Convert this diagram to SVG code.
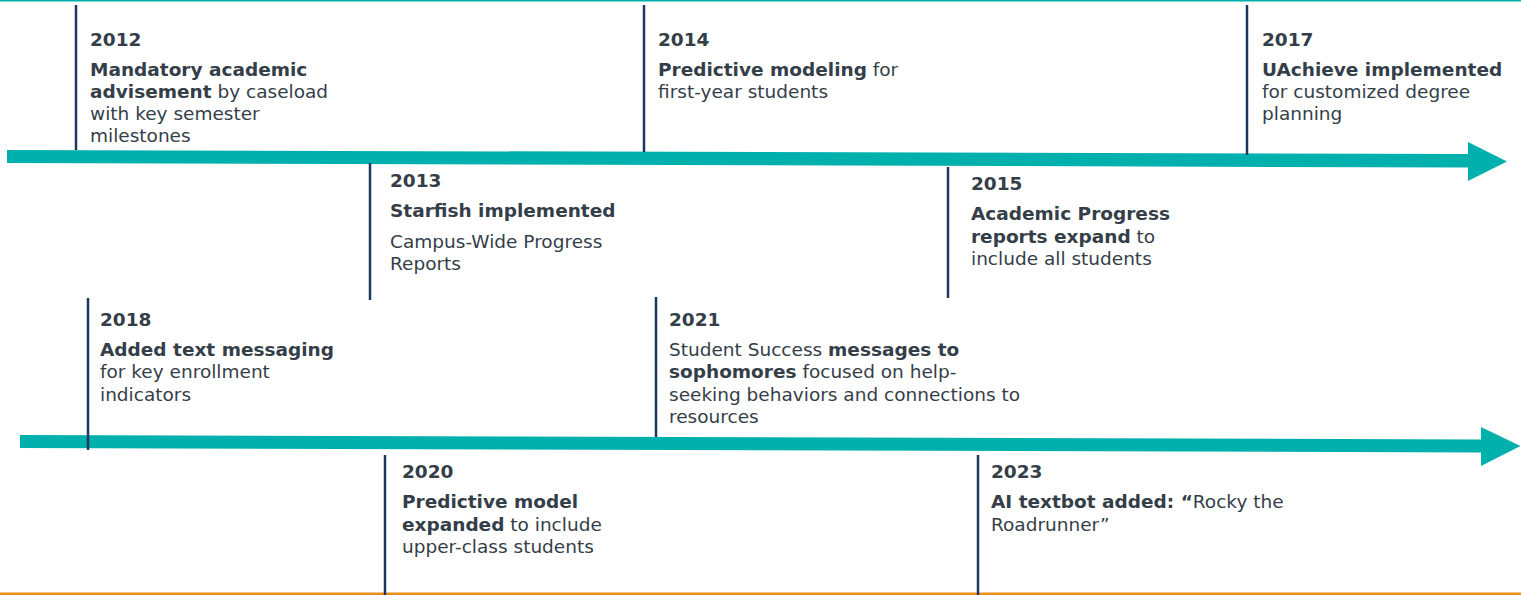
<svg xmlns="http://www.w3.org/2000/svg" width="1521" height="595" viewBox="0 0 1521 595">
  <style>
    text { font-family: "DejaVu Sans", Verdana, sans-serif; font-size: 18.5px; fill: #343e48; }
    .yr { font-weight: bold; }
    .b { font-weight: bold; }
    .tick { stroke: #1c3a5e; stroke-width: 2.5; fill: none; }
    .axis { fill: #00b0ad; }
  </style>
  <rect x="0" y="0" width="1521" height="595" fill="#ffffff"/>
  <!-- frame rules -->
  <rect x="0" y="0" width="1521" height="1.5" fill="#00b0ad"/>
  <rect x="0" y="592.5" width="1521" height="2.5" fill="#e8901a"/>

  <!-- timeline arrows and year ticks -->
  <g id="connectors">
    <polygon class="axis" points="7,150 1468,154 1468,142 1507,161.5 1468,181 1468,167.5 7,163"/>
    <polygon class="axis" points="20,435 1481,439.5 1481,427 1520.5,446 1481,466 1481,452.5 20,448"/>
    <line class="tick" x1="76" y1="5" x2="76" y2="150"/>
    <line class="tick" x1="644" y1="5" x2="644" y2="152"/>
    <line class="tick" x1="1247" y1="5" x2="1247" y2="155"/>
    <line class="tick" x1="370" y1="163" x2="370" y2="300"/>
    <line class="tick" x1="948" y1="167" x2="948" y2="298"/>
    <line class="tick" x1="88" y1="298" x2="88" y2="450"/>
    <line class="tick" x1="656" y1="297" x2="656" y2="437"/>
    <line class="tick" x1="385" y1="455" x2="385" y2="595"/>
    <line class="tick" x1="978" y1="455" x2="978" y2="595"/>
  </g>

  <g id="m2012">
    <text class="yr" x="90" y="46">2012</text>
    <text x="90" y="76"><tspan class="b">Mandatory academic</tspan></text>
    <text x="90" y="98"><tspan class="b">advisement</tspan> by caseload</text>
    <text x="90" y="120">with key semester</text>
    <text x="90" y="142">milestones</text>
  </g>
  <g id="m2014">
    <text class="yr" x="658" y="46">2014</text>
    <text x="658" y="76"><tspan class="b">Predictive modeling</tspan> for</text>
    <text x="658" y="98">first-year students</text>
  </g>
  <g id="m2017">
    <text class="yr" x="1262" y="46">2017</text>
    <text x="1262" y="76"><tspan class="b">UAchieve implemented</tspan></text>
    <text x="1262" y="98">for customized degree</text>
    <text x="1262" y="120">planning</text>
  </g>
  <g id="m2013">
    <text class="yr" x="390" y="187">2013</text>
    <text x="390" y="217"><tspan class="b">Starfish implemented</tspan></text>
    <text x="390" y="248">Campus-Wide Progress</text>
    <text x="390" y="270">Reports</text>
  </g>
  <g id="m2015">
    <text class="yr" x="971" y="190">2015</text>
    <text x="971" y="220"><tspan class="b">Academic Progress</tspan></text>
    <text x="971" y="243"><tspan class="b">reports expand</tspan> to</text>
    <text x="971" y="265">include all students</text>
  </g>
  <g id="m2018">
    <text class="yr" x="100" y="326">2018</text>
    <text x="100" y="356"><tspan class="b">Added text messaging</tspan></text>
    <text x="100" y="378">for key enrollment</text>
    <text x="100" y="401">indicators</text>
  </g>
  <g id="m2021">
    <text class="yr" x="669" y="326">2021</text>
    <text x="669" y="356">Student Success <tspan class="b">messages to</tspan></text>
    <text x="669" y="378"><tspan class="b">sophomores</tspan> focused on help-</text>
    <text x="669" y="401">seeking behaviors and connections to</text>
    <text x="669" y="423">resources</text>
  </g>
  <g id="m2020">
    <text class="yr" x="402" y="478">2020</text>
    <text x="402" y="508"><tspan class="b">Predictive model</tspan></text>
    <text x="402" y="531"><tspan class="b">expanded</tspan> to include</text>
    <text x="402" y="553">upper-class students</text>
  </g>
  <g id="m2023">
    <text class="yr" x="991" y="478">2023</text>
    <text x="991" y="508"><tspan class="b">AI textbot added: “</tspan>Rocky the</text>
    <text x="991" y="531">Roadrunner”</text>
  </g>
</svg>
